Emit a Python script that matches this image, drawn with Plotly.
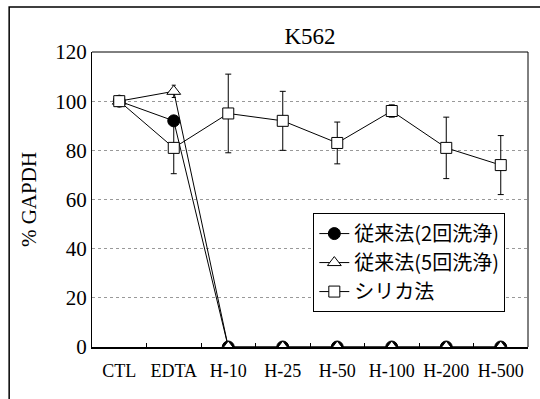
import plotly.graph_objects as go

categories = ["CTL", "EDTA", "H-10", "H-25", "H-50", "H-100", "H-200", "H-500"]
conv2_values = [100, 92, 0, 0, 0, 0, 0, 0]
conv5_values = [100, 104, 0, 0, 0, 0, 0, 0]
conv5_err = [0, 2.5, 0, 0, 0, 0, 0, 0]
silica_values = [100, 81, 95, 92, 83, 96, 81, 74]
silica_err = [1, 10.5, 16, 12, 8.5, 2.5, 12.5, 12]
y_ticks = [0, 20, 40, 60, 80, 100, 120]
names = ["従来法(2回洗浄)", "従来法(5回洗浄)", "シリカ法"]

FONT = "Liberation Serif, Noto Serif CJK JP, Noto Sans CJK JP, serif"

fig = go.Figure()
fig.add_trace(go.Scatter(
    x=categories, y=conv2_values, name=names[0], mode="lines+markers",
    line=dict(color="black", width=1),
    marker=dict(symbol="circle", size=12, color="black", line=dict(color="black", width=1)),
))
fig.add_trace(go.Scatter(
    x=categories, y=conv5_values, name=names[1], mode="lines+markers",
    line=dict(color="black", width=1),
    error_y=dict(type="data", array=conv5_err, color="black", thickness=1, width=2),
    marker=dict(symbol="triangle-up", size=12, color="white", line=dict(color="black", width=1)),
))
fig.add_trace(go.Scatter(
    x=categories, y=silica_values, name=names[2], mode="lines+markers",
    line=dict(color="black", width=1),
    error_y=dict(type="data", array=silica_err, color="black", thickness=1, width=3),
    marker=dict(symbol="square", size=11, color="white", line=dict(color="black", width=1)),
))

fig.update_layout(
    width=540, height=399,
    margin=dict(l=92, r=12, t=52, b=52),
    paper_bgcolor="white", plot_bgcolor="white",
    font=dict(family=FONT, color="black", size=18),
    title=dict(text="K562", x=0.5, xref="paper", y=0.91, yref="container", yanchor="middle",
               font=dict(size=23, family=FONT)),
    showlegend=True,
    legend=dict(x=0.948, y=0.454, xanchor="right", yanchor="top",
                bordercolor="black", borderwidth=1, bgcolor="white",
                font=dict(size=20, family="Noto Sans CJK JP, Liberation Serif"),
                tracegroupgap=0, itemwidth=30),
    xaxis=dict(type="category", categoryorder="array", categoryarray=categories,
               range=[-0.5, 7.5], showgrid=False, showline=True, linecolor="black",
               linewidth=2, mirror=False, ticks="inside", ticklen=4, tickson="boundaries",
               tickcolor="black", tickfont=dict(size=18, family=FONT), zeroline=False,
               tickangle=0, automargin=False, ticklabelstandoff=6),
    yaxis=dict(range=[0, 120], tickvals=y_ticks, showline=True, linecolor="black",
               linewidth=1, ticks="", showgrid=True, gridcolor="#999999",
               griddash="dot", gridwidth=1, zeroline=False, automargin=False,
               tickfont=dict(size=21, family=FONT),
               title=dict(text="% GAPDH", font=dict(size=21, family=FONT), standoff=12)),
    shapes=[
        dict(type="line", xref="paper", yref="paper", x0=0, x1=1, y0=1, y1=1,
             line=dict(color="black", width=1)),
        dict(type="line", xref="paper", yref="paper", x0=1, x1=1, y0=0, y1=1,
             line=dict(color="black", width=1)),
        dict(type="rect", xref="paper", yref="paper", x0=-0.19, x1=1.03, y0=-0.25, y1=1.1525,
             line=dict(color="black", width=1.5), fillcolor="rgba(0,0,0,0)", layer="below"),
    ],
)

fig.write_html("out.html")
